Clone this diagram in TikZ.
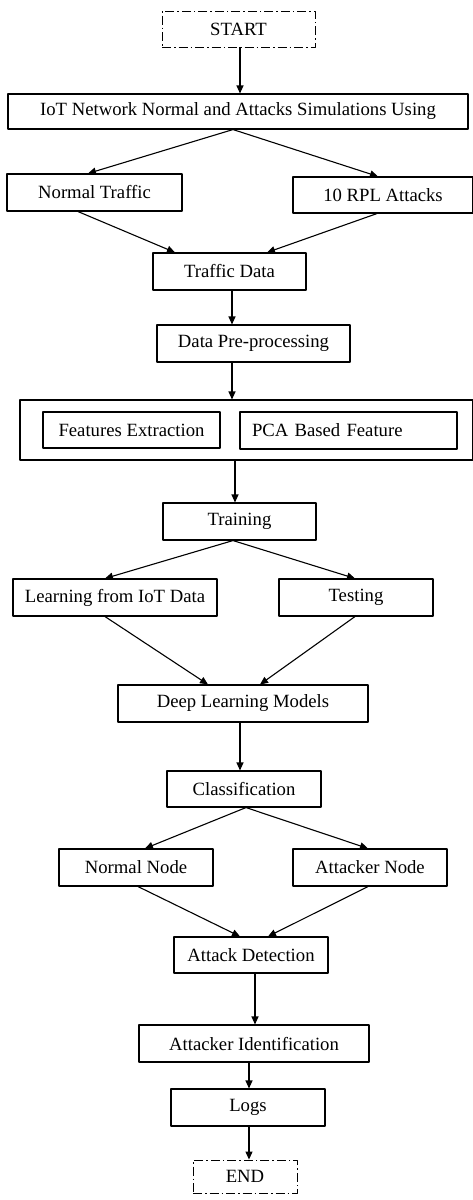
\documentclass[tikz,border=0pt]{standalone}
\usepackage{fontspec}
\setmainfont{Liberation Serif}
\usetikzlibrary{arrows.meta}

\begin{document}
\begin{tikzpicture}[x=1pt, y=-1pt, line join=bevel]
    \useasboundingbox (0,0) rectangle (472,1200);

    \tikzset{%
      apply style/.code = {\tikzset{#1}},
      flow_box/.style   = {minimum width=#1pt, inner sep=0pt,
                           font=\fontsize{18.7}{22}\selectfont},
      box_edges/.style  = {draw, line width=1.1pt},
      term_edges/.style = {draw, line width=0.9pt,
                           dash pattern=on 9pt off 3pt on 1.5pt off 3pt},
      flow_arrow/.style = {line width=1.1pt, -{Triangle[length=8pt,width=7pt]}}
    }

    % boxes: name / centre x / centre y / width / height / style / text
    \foreach \nm/\cx/\cy/\w/\h/\sty/\txt in {%
        start/238.5/29/153/36/{term_edges}/START,
        iot/238/111.5/460/35/{box_edges}/IoT Network Normal and Attacks Simulations Using,
        norm/94.5/192.5/175/37/{box_edges}/Normal Traffic,
        rpl/383/195/180/36/{box_edges}/10 RPL Attacks,
        td/229.5/271.5/153/37/{box_edges}/Traffic Data,
        pre/253.5/343.5/193/37/{box_edges}/Data Pre-processing,
        outer/246.5/430/453/60/{box_edges}/{},
        fe/131.5/430/177/36/{box_edges}/Features Extraction,
        pca/348.5/430.5/217/37/{box_edges, text width=193pt, align=left}/PCA Based Feature,
        train/239.5/521.5/153/37/{box_edges}/Training,
        learn/115/597.5/204/37/{box_edges}/Learning from IoT Data,
        test/356/597.5/154/37/{box_edges}/Testing,
        dlm/243/703.5/250/37/{box_edges}/Deep Learning Models,
        cls/244/789/154/36/{box_edges}/Classification,
        nn/136/867.5/154/37/{box_edges}/Normal Node,
        an/370/867.5/154/37/{box_edges}/Attacker Node,
        ad/251/955/154/36/{box_edges}/Attack Detection,
        aid/254/1043.5/230/37/{box_edges}/Attacker Identification,
        logs/248/1107.5/154/37/{box_edges}/Logs,
        end/245/1176.5/104/33/{term_edges}/END%
    }{
      \node[flow_box=\w, minimum height=\h pt, apply style/.expand once=\sty]
        (\nm) at (\cx,\cy) {\txt};
    }

    % straight down
    \foreach \from/\fx/\to in {start/1.5/iot, td/2.5/pre, pre/-21.5/outer,
        outer/-11.5/train, dlm/-3/cls, ad/4/aid, aid/-5/logs, logs/1/end}{
      \draw[flow_arrow] ([xshift=\fx pt]\from.south)
        -- ([xshift=\fx pt]\from.south |- \to.north);
    }

    % slanted
    \foreach \from/\fx/\to/\tx in {iot/-5/norm/-6.5, iot/-5/rpl/-5,
        norm/-16.5/td/-54.5, rpl/-6/td/37.5, train/-6.5/learn/-10,
        train/-6.5/test/-1, learn/-10/dlm/-35, test/-1/dlm/17,
        cls/2/nn/9, cls/2/an/-2, nn/2/ad/-11, an/-2/ad/17}{
      \draw[flow_arrow] ([xshift=\fx pt]\from.south) -- ([xshift=\tx pt]\to.north);
    }
\end{tikzpicture}
\end{document}
